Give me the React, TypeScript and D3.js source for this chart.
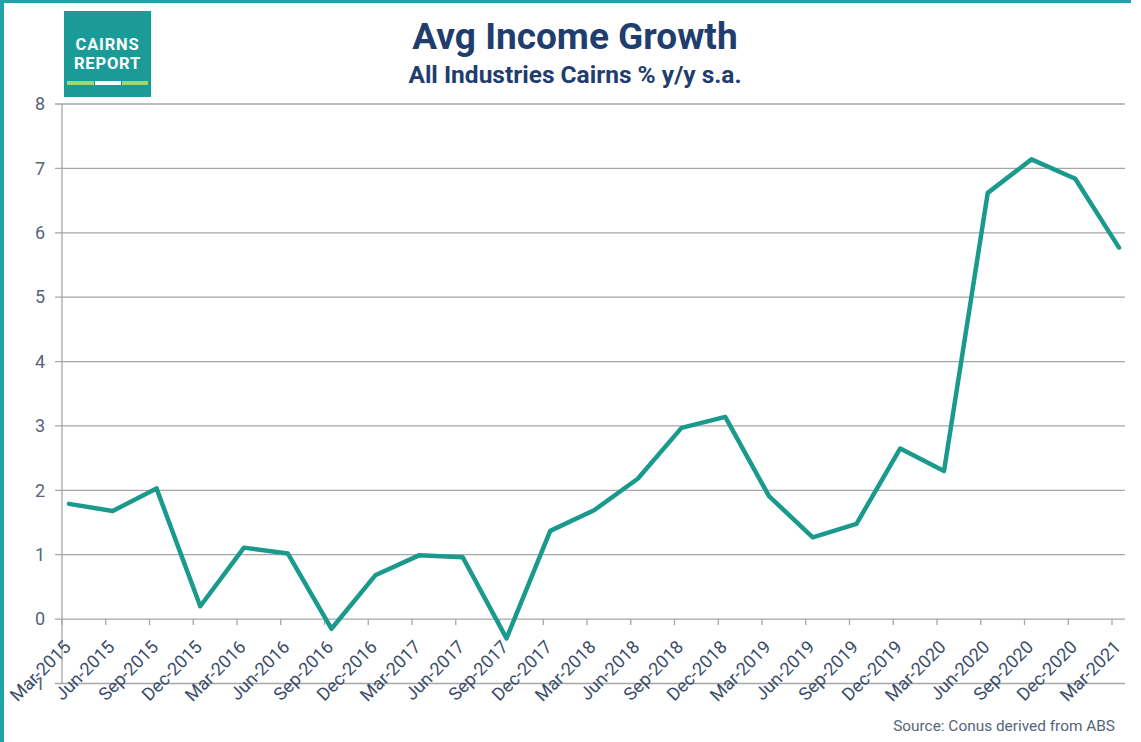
import React from "react";
import * as d3 from "d3";

const categories = [
  "Mar-2015", "Jun-2015", "Sep-2015", "Dec-2015",
  "Mar-2016", "Jun-2016", "Sep-2016", "Dec-2016",
  "Mar-2017", "Jun-2017", "Sep-2017", "Dec-2017",
  "Mar-2018", "Jun-2018", "Sep-2018", "Dec-2018",
  "Mar-2019", "Jun-2019", "Sep-2019", "Dec-2019",
  "Mar-2020", "Jun-2020", "Sep-2020", "Dec-2020",
  "Mar-2021",
];

const incomeGrowth = [
  1.79, 1.68, 2.03, 0.2,
  1.11, 1.02, -0.15, 0.68,
  0.99, 0.96, -0.3, 1.37,
  1.69, 2.18, 2.97, 3.14,
  1.91, 1.27, 1.48, 2.65,
  2.3, 6.62, 7.14, 6.84,
  5.77,
];

const yTicks = [-1, 0, 1, 2, 3, 4, 5, 6, 7, 8];

const TITLE = "Avg Income Growth";
const SUBTITLE = "All Industries Cairns % y/y s.a.";
const SOURCE = "Source: Conus derived from ABS";

const W = 1141;
const H = 742;
const TEAL_BORDER = "#1ea3a6";
const LINE = "#199a8c";
const NAVY = "#1f3e6d";
const AXIS_TEXT = "#55657a";
const LABEL_TEXT = "#3b4d6a";
const GRID = "#a6a6a6";

export default function App() {
  const plotLeft = 62;
  const plotRight = 1125;
  const x = d3.scalePoint<string>().domain(categories).range([62, 1112]);
  const pointShift = 7;
  const y = d3.scaleLinear().domain([-1, 8]).range([683.5, 104]);

  const line = d3
    .line<number>()
    .x((_, i) => (x(categories[i]) as number) + pointShift)
    .y((d) => y(d));

  const font = "Roboto, 'Noto Sans', Arial, sans-serif";

  return (
    <div style={{ position: "fixed", left: 0, top: 0, width: W, height: H }}>
      <svg width={W} height={H} style={{ display: "block" }}>
        <rect x={0} y={0} width={W} height={H} fill="#ffffff" />
        {/* frame */}
        <rect x={0} y={0} width={W - 10} height={3} fill={TEAL_BORDER} />
        <rect x={0} y={0} width={4} height={H} fill={TEAL_BORDER} />

        {/* logo */}
        <g>
          <rect x={64} y={11} width={87} height={86} fill="#1b9b97" />
          <text x={107.5} y={49.5} textAnchor="middle" fill="#ffffff" fontFamily={font} fontWeight={700} fontSize={16.5} letterSpacing={0.8}>CAIRNS</text>
          <text x={107.5} y={69} textAnchor="middle" fill="#ffffff" fontFamily={font} fontWeight={700} fontSize={16.5} letterSpacing={0.8}>REPORT</text>
          <rect x={67} y={81} width={27} height={4} fill="#a3d66a" />
          <rect x={95} y={81} width={26} height={4} fill="#ffffff" />
          <rect x={122} y={81} width={26} height={4} fill="#a3d66a" />
        </g>

        {/* titles */}
        <text x={575} y={49} textAnchor="middle" fill={NAVY} fontFamily={font} fontWeight={700} fontSize={37}>{TITLE}</text>
        <text x={575} y={83} textAnchor="middle" fill={NAVY} fontFamily={font} fontWeight={700} fontSize={24.5}>{SUBTITLE}</text>

        {/* gridlines and y labels */}
        {yTicks.map((t) => (
          <g key={t}>
            <line x1={plotLeft - 7} x2={plotRight} y1={y(t)} y2={y(t)} stroke={GRID} strokeWidth={1.3} />
            <text x={45} y={y(t)} dy="0.35em" textAnchor="end" fill={AXIS_TEXT} fontFamily={font} fontSize={18}>{t}</text>
          </g>
        ))}
        {/* y axis line */}
        <line x1={plotLeft} x2={plotLeft} y1={y(8)} y2={y(-1)} stroke={GRID} strokeWidth={1.3} />

        {/* x ticks */}
        {categories.map((c) => (
          <line key={c} x1={x(c)} x2={x(c)} y1={y(0)} y2={y(0) + 6} stroke={GRID} strokeWidth={1.3} />
        ))}

        {/* data line */}
        <path d={line(incomeGrowth) || ""} fill="none" stroke={LINE} strokeWidth={4.5} strokeLinejoin="round" strokeLinecap="round" />

        {/* x labels */}
        {categories.map((c) => {
          const cx = (x(c) as number) + 10;
          const cy = y(0) + 29;
          return (
            <text key={c} x={cx} y={cy} textAnchor="end" transform={`rotate(-45 ${cx} ${cy})`} fill={LABEL_TEXT} fontFamily={font} fontSize={18}>{c}</text>
          );
        })}

        {/* source */}
        <text x={1115} y={731} textAnchor="end" fill={AXIS_TEXT} fontFamily={font} fontSize={15.4}>{SOURCE}</text>
      </svg>
    </div>
  );
}
